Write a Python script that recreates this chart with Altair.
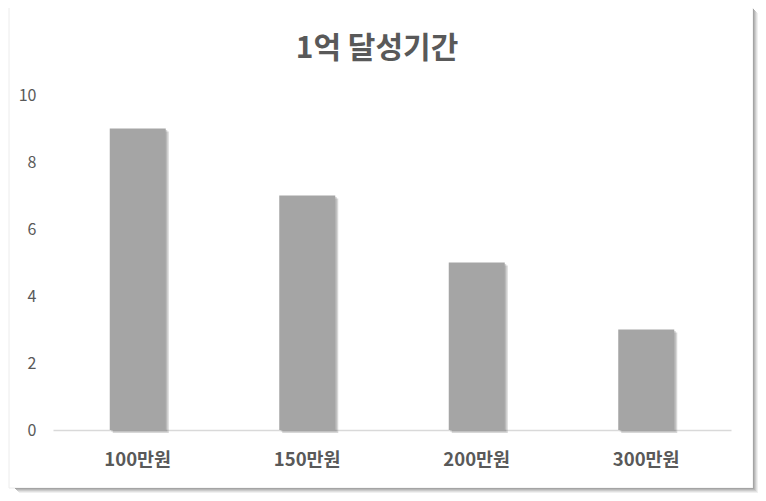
import altair as alt
import pandas as pd

categories = ["100만원", "150만원", "200만원", "300만원"]
values = [9, 7, 5, 3]
y_ticks = [0, 2, 4, 6, 8, 10]
title_text = "1억 달성기간"

FONT = "Noto Sans CJK KR"
TEXT = "#595959"

df = pd.DataFrame({"cat": categories, "val": values})
one = pd.DataFrame({"a": [0]})
title_df = pd.DataFrame({"t": [title_text]})

x_enc = alt.X("cat:N", sort=categories, title=None,
              axis=alt.Axis(labelAngle=0, labelFont=FONT, labelFontSize=18.5,
                            labelFontWeight="bold", labelColor=TEXT,
                            labelPadding=20, ticks=False, domainColor="#d9d9d9",
                            domainWidth=1.5))
y_enc = alt.Y("val:Q", title=None,
              scale=alt.Scale(domain=[0, 10], nice=False),
              axis=alt.Axis(values=y_ticks, labelFont=FONT, labelFontSize=16,
                            labelColor=TEXT, labelPadding=17, ticks=False,
                            domain=False, grid=False))

base = alt.Chart(df)
shadow1 = base.mark_bar(color="#606060", opacity=0.25, width=56,
                        xOffset=3, yOffset=3).encode(x=x_enc, y=y_enc)
shadow2 = base.mark_bar(color="#606060", opacity=0.25, width=56,
                        xOffset=1.5, yOffset=1.5).encode(x=x_enc, y=y_enc)
bars = base.mark_bar(color="#a5a5a5", width=56).encode(x=x_enc, y=y_enc)

title = alt.Chart(title_df).mark_text(
    font=FONT, fontSize=30, fontWeight="bold", color=TEXT,
    align="center", baseline="alphabetic").encode(
    text="t:N", x=alt.value(324), y=alt.value(-37))

# frame decoration (in plot-area pixel coordinates)
layers = []
border = alt.Chart(one).mark_rect(fill=None, stroke="#ececec", strokeWidth=1).encode(
    x=alt.value(-44), x2=alt.value(700), y=alt.value(-88), y2=alt.value(393))
layers.append(border)
shade_cols = ["#a4a4a4", "#b8b8b8", "#cccccc", "#e0e0e0", "#f0f0f0"]
for i, c in enumerate(shade_cols):
    layers.append(alt.Chart(one).mark_rect(color=c).encode(
        x=alt.value(700 + i), x2=alt.value(701 + i),
        y=alt.value(-86 + i), y2=alt.value(394 + i)))
    layers.append(alt.Chart(one).mark_rect(color=c).encode(
        x=alt.value(-38 + i), x2=alt.value(701 + i),
        y=alt.value(393 + i), y2=alt.value(394 + i)))

chart = alt.layer(*layers, shadow1, shadow2, bars, title).properties(
    width=678, height=335,
    background="white",
    autosize=alt.AutoSizeParams(type="none"),
    padding={"left": 45, "top": 87, "right": 27, "bottom": 63},
).configure_view(strokeWidth=0)

chart.save("out.html", embed_options={"renderer": "svg", "actions": False})
